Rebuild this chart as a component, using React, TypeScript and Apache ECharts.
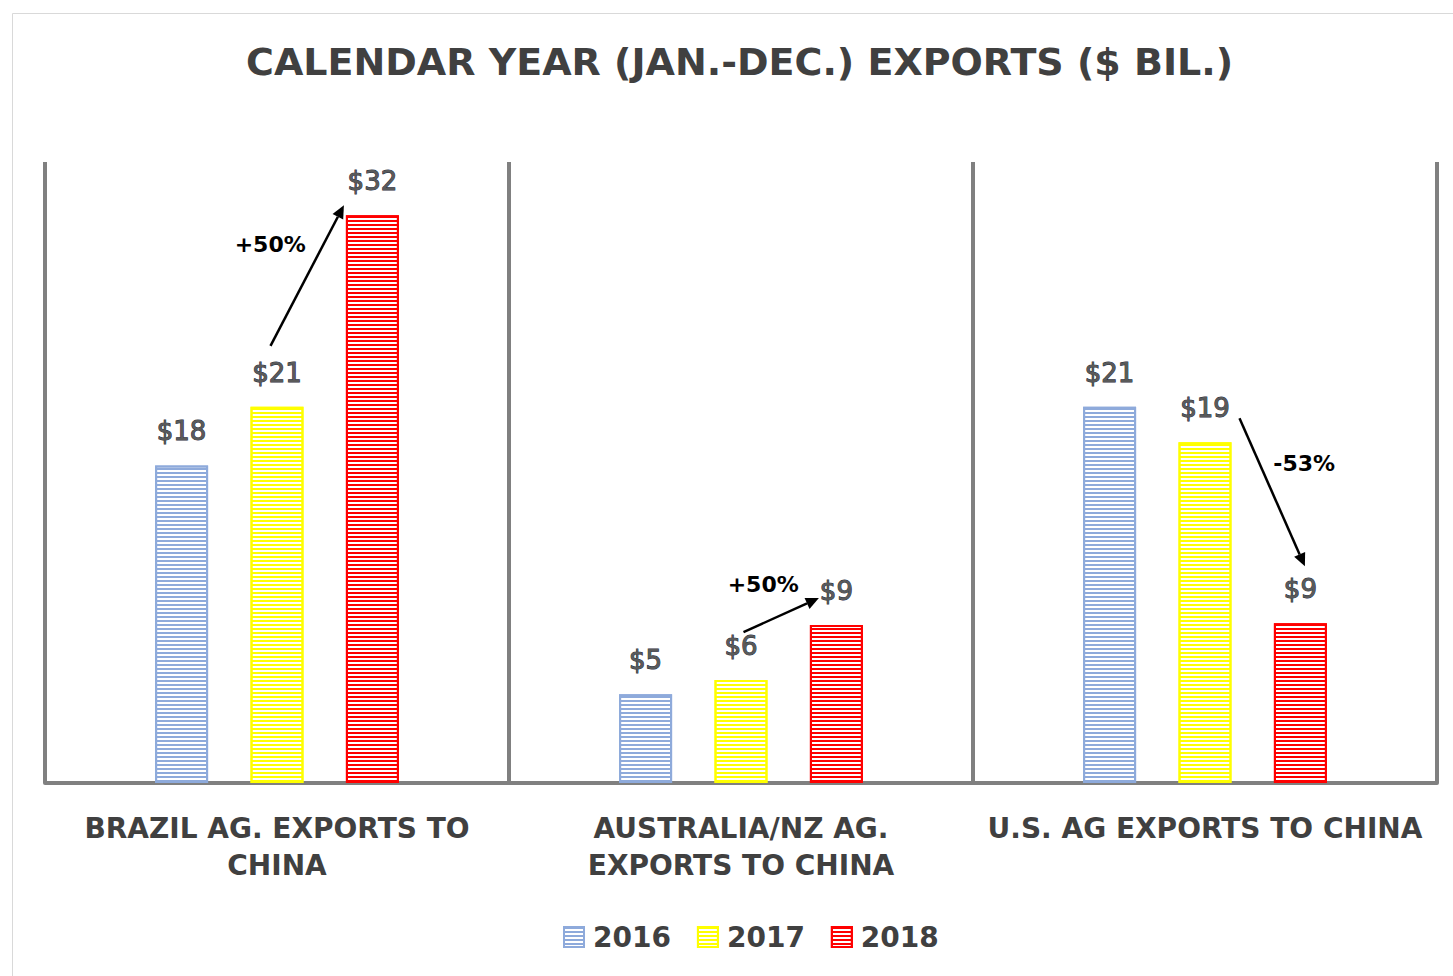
import React, { useEffect, useRef } from "react";
import * as echarts from "echarts";

const titleText = "CALENDAR YEAR (JAN.-DEC.) EXPORTS ($ BIL.)";
const categories = [
  "BRAZIL AG. EXPORTS TO\nCHINA",
  "AUSTRALIA/NZ AG.\nEXPORTS TO CHINA",
  "U.S. AG EXPORTS TO CHINA",
];
const years = ["2016", "2017", "2018"];
const values2016 = [17.9, 5.0, 21.2];
const values2017 = [21.2, 5.8, 19.2];
const values2018 = [32.0, 8.9, 9.0];
const seriesValues = [values2016, values2017, values2018];
const yearColors = ["#8eaadb", "#ffff00", "#ff0000"];

// change annotations: category index, from series, to series, label
const annoCats = [0, 1, 2];
const annoFrom = [1, 1, 1];
const annoTo = [2, 2, 2];
const annoLabels = ["+50%", "+50%", "-53%"];

// pixel offsets for arrows (relative to bar left / top) and labels (relative to arrow midpoint)
const annoLayout = [
  { s: [20, -61], e: [-2, -10], t: [-37, -31] },
  { s: [29, -48], e: [9, -27], t: [-18, -31] },
  { s: [61, -24], e: [31, -57], t: [32, -29] },
];

const FONT = "DejaVu Sans";

export default function App() {
  const ref = useRef<HTMLDivElement>(null);
  useEffect(() => {
    if (!ref.current) return;
    const chart = echarts.init(ref.current, null, { renderer: "svg" });
    const series = years.map((y, i) => ({
      name: y,
      type: "bar",
      data: seriesValues[i],
      barWidth: 53,
      barGap: "80%",
      itemStyle: {
        color: "#ffffff",
        borderColor: yearColors[i],
        borderWidth: 2,
        decal: {
          symbol: "rect",
          symbolSize: 1,
          color: yearColors[i],
          dashArrayX: [1, 0],
          dashArrayY: [2, 2],
          rotation: 0,
        },
      },
      label: {
        show: true,
        position: "top",
        distance: 21,
        formatter: (p: any) => "$" + Math.round(p.value),
        fontFamily: FONT,
        fontSize: 26,
        color: "#5a5a5a",
        textBorderColor: "#1f2d3d",
        textBorderWidth: 1,
      },
    }));
    chart.setOption({
      animation: false,
      title: {
        text: titleText,
        left: 246,
        top: 43,
        padding: 0,
        textStyle: {
          fontFamily: FONT,
          fontWeight: "bold",
          fontSize: 38,
          color: "#404040",
        },
      },
      legend: {
        data: years,
        left: 558,
        top: 918,
        icon: "rect",
        itemWidth: 20,
        itemHeight: 20,
        itemGap: 26,
        textStyle: {
          fontFamily: FONT,
          fontWeight: "bold",
          fontSize: 28,
          color: "#404040",
          padding: [0, 0, 0, 4],
        },
      },
      grid: { left: 45, right: 16, top: 162, bottom: 193 },
      xAxis: {
        type: "category",
        data: categories,
        axisLine: { show: true, lineStyle: { color: "#808080", width: 4 } },
        axisTick: { show: false },
        splitLine: { show: true, lineStyle: { color: "#808080", width: 4 } },
        axisLabel: {
          interval: 0,
          margin: 27,
          fontFamily: FONT,
          fontWeight: "bold",
          fontSize: 28,
          lineHeight: 37,
          color: "#404040",
        },
      },
      yAxis: {
        type: "value",
        min: 0,
        max: 35,
        show: false,
        splitLine: { show: false },
      },
      series,
    });

    // annotations from bar layouts
    const model: any = (chart as any).getModel();
    const layoutOf = (s: number, i: number) => {
      const d = model.getSeriesByIndex(s).getData();
      const l = d.getItemLayout(i);
      const left = Math.min(l.x, l.x + l.width);
      const top = Math.min(l.y, l.y + l.height);
      return { left, top, width: Math.abs(l.width) };
    };
    const graphics: any[] = [
      {
        type: "rect",
        left: 10,
        top: 11,
        shape: { width: 1450, height: 970 },
        style: { fill: "none", stroke: "#d9d9d9", lineWidth: 1 },
        silent: true,
      },
    ];
    annoCats.forEach((c, k) => {
      const a = layoutOf(annoFrom[k], c);
      const b = layoutOf(annoTo[k], c);
      const L = annoLayout[k];
      const x1 = a.left + L.s[0];
      const y1 = a.top + L.s[1];
      const x2 = b.left + L.e[0];
      const y2 = b.top + L.e[1];
      const ang = Math.atan2(y2 - y1, x2 - x1);
      const hl = 13;
      const hw = 6;
      const bx = x2 - hl * Math.cos(ang);
      const by = y2 - hl * Math.sin(ang);
      const px = -Math.sin(ang);
      const py = Math.cos(ang);
      graphics.push({
        type: "line",
        shape: { x1, y1, x2: bx, y2: by },
        style: { stroke: "#000", lineWidth: 2.5 },
        silent: true,
      });
      graphics.push({
        type: "polygon",
        shape: {
          points: [
            [x2, y2],
            [bx + hw * px, by + hw * py],
            [bx - hw * px, by - hw * py],
          ],
        },
        style: { fill: "#000" },
        silent: true,
      });
      graphics.push({
        type: "text",
        x: (x1 + x2) / 2 + L.t[0],
        y: (y1 + y2) / 2 + L.t[1],
        style: {
          text: annoLabels[k],
          fontFamily: FONT,
          fontWeight: "bold",
          fontSize: 22,
          fill: "#000",
          align: "center",
          verticalAlign: "middle",
        },
        silent: true,
      });
    });
    chart.setOption({ graphic: graphics }, { replaceMerge: ["graphic"] });

    return () => chart.dispose();
  }, []);
  return (
    <div
      ref={ref}
      style={{ position: "fixed", left: 0, top: 0, width: 1453, height: 976, background: "#fff" }}
    />
  );
}
